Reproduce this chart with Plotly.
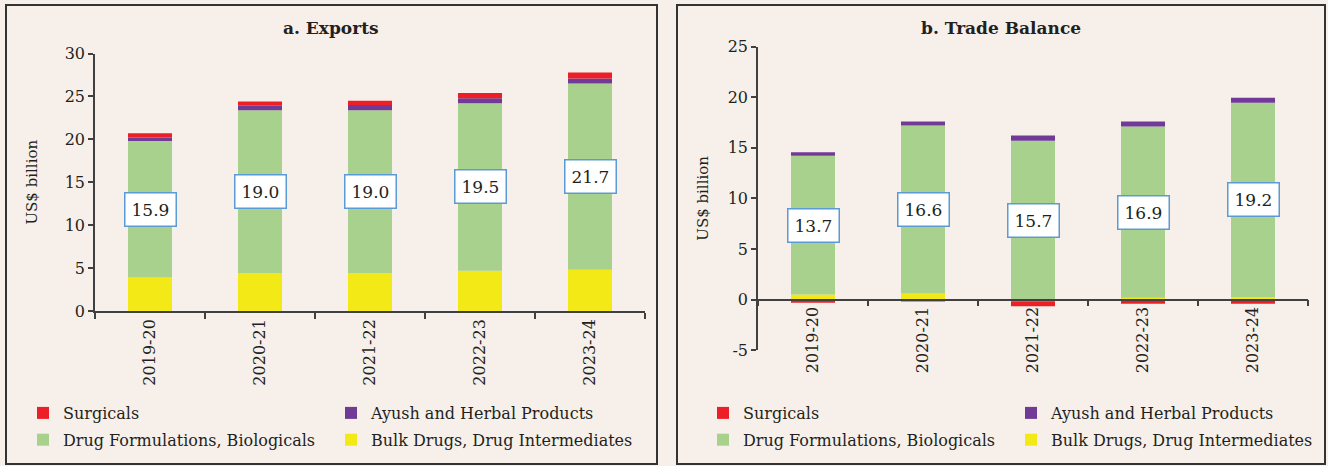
import plotly.graph_objects as go

# ---------------- data ----------------
years = ["2019-20", "2020-21", "2021-22", "2022-23", "2023-24"]

exp_bulk = [3.9, 4.4, 4.4, 4.7, 4.8]
exp_form = [15.9, 19.0, 19.0, 19.5, 21.7]
exp_ayush = [0.4, 0.5, 0.6, 0.6, 0.6]
exp_surg = [0.5, 0.5, 0.5, 0.6, 0.7]

tb_bulk = [0.5, 0.6, -0.15, 0.2, 0.25]
tb_form = [13.7, 16.6, 15.7, 16.9, 19.2]
tb_ayush = [0.35, 0.4, 0.5, 0.5, 0.5]
tb_surg = [-0.3, -0.1, -0.5, -0.4, -0.4]

exp_ticks = [0, 5, 10, 15, 20, 25, 30]
tb_ticks = [-5, 0, 5, 10, 15, 20, 25]

names = ["Bulk Drugs, Drug Intermediates", "Drug Formulations, Biologicals",
         "Ayush and Herbal Products", "Surgicals"]
colors = ["#F2E917", "#A9D18E", "#703A96", "#ED1F26"]

# ---------------- style ----------------
W, H = 1328, 466
BG = "#F7F0EA"
FONT = "DejaVu Serif"
TXT = "#231F20"
AX = "#404040"


def px_x(p):
    return p / W


def px_y(p):
    return (H - p) / H


fig = go.Figure()

# legend columns: column A (Surgicals / Drug Formulations), column B (Ayush / Bulk Drugs)
col_of = ["B", "A", "B", "A"]
rank_of = [2, 2, 1, 1]
left = [exp_bulk, exp_form, exp_ayush, exp_surg]
right = [tb_bulk, tb_form, tb_ayush, tb_surg]
leg_left = {"A": "legend", "B": "legend2"}
leg_right = {"A": "legend3", "B": "legend4"}
for i, (vals, nm, col, c) in enumerate(zip(left, names, colors, col_of)):
    fig.add_trace(go.Bar(x=years, y=vals, name=nm, marker=dict(color=col, line=dict(width=0)),
                         width=0.4, xaxis="x", yaxis="y", legend=leg_left[c],
                         legendgroup=f"L{i}", legendrank=rank_of[i]))
for i, (vals, nm, col, c) in enumerate(zip(right, names, colors, col_of)):
    fig.add_trace(go.Bar(x=years, y=vals, name=nm, marker=dict(color=col, line=dict(width=0)),
                         width=0.4, xaxis="x2", yaxis="y2", legend=leg_right[c],
                         legendgroup=f"R{i}", legendrank=rank_of[i]))

# data labels on the formulations segment
box = dict(bgcolor="white", bordercolor="#5B9BD5", borderwidth=1.5, borderpad=6,
           font=dict(family=FONT, size=17, color=TXT), showarrow=False)
annotations = []
for yr, b, f in zip(years, exp_bulk, exp_form):
    base = b if b > 0 else 0
    annotations.append(dict(x=yr, y=base + f / 2, xref="x", yref="y", text=f"{f:.1f}", **box))
for yr, b, f in zip(years, tb_bulk, tb_form):
    base = b if b > 0 else 0
    annotations.append(dict(x=yr, y=base + f / 2, xref="x2", yref="y2", text=f"{f:.1f}", **box))

# titles
for xc, t in [(331, "a. Exports"), (1001, "b. Trade Balance")]:
    annotations.append(dict(x=px_x(xc), y=px_y(28), xref="paper", yref="paper", text=f"<b>{t}</b>",
                            xanchor="center", yanchor="middle", showarrow=False,
                            font=dict(family=FONT, size=17, color=TXT)))

# panel borders
shapes = [
    dict(type="rect", xref="paper", yref="paper", x0=px_x(6), x1=px_x(657), y0=px_y(464), y1=px_y(5),
         line=dict(color="#333333", width=2)),
    dict(type="rect", xref="paper", yref="paper", x0=px_x(677), x1=px_x(1325), y0=px_y(464), y1=px_y(5),
         line=dict(color="#333333", width=2)),
]

tickfont = dict(family=FONT, size=16, color=TXT)
titlefont = dict(family=FONT, size=15, color=TXT)

ydom2 = [px_y(350.3), px_y(46.5)]
yr2 = [-5, 25]
x2pos = ydom2[0] + (ydom2[1] - ydom2[0]) * (0 - yr2[0]) / (yr2[1] - yr2[0])

common_x = dict(type="category", tickson="boundaries", ticks="outside", ticklen=6, tickwidth=1.5,
                tickcolor=AX, showline=True, linecolor=AX, linewidth=1.5, showgrid=False,
                tickangle=-90, tickfont=tickfont, zeroline=False)
common_y = dict(ticks="outside", ticklen=5, tickwidth=1.5, tickcolor=AX, showline=True, linecolor=AX,
                linewidth=1.5, showgrid=False, zeroline=False, tickfont=tickfont)

legfont = dict(family=FONT, size=16, color=TXT)


def leg(xp):
    return dict(orientation="v", x=px_x(xp), y=px_y(396), xanchor="left", yanchor="top",
                traceorder="grouped", tracegroupgap=3,
                font=legfont, bgcolor="rgba(0,0,0,0)", borderwidth=0)


fig.update_layout(
    width=W, height=H,
    paper_bgcolor=BG, plot_bgcolor=BG,
    margin=dict(l=0, r=0, t=0, b=0, autoexpand=False),
    barmode="relative",
    showlegend=True,
    xaxis=dict(domain=[px_x(95), px_x(645)], anchor="y", **common_x),
    yaxis=dict(domain=[px_y(311), px_y(53.5)], range=[0, 30], anchor="x",
               tickvals=exp_ticks, ticktext=[str(v) for v in exp_ticks],
               title=dict(text="US$ billion", font=titlefont, standoff=23), **common_y),
    xaxis2=dict(domain=[px_x(758), px_x(1308)], anchor="free", position=x2pos, **common_x),
    yaxis2=dict(domain=ydom2, range=yr2, anchor="x2",
                tickvals=tb_ticks, ticktext=[str(v) for v in tb_ticks],
                title=dict(text="US$ billion", font=titlefont, standoff=15), **common_y),
    legend=leg(23),
    legend2=leg(331),
    legend3=leg(703),
    legend4=leg(1011),
    annotations=annotations,
    shapes=shapes,
)

fig.write_html("out.html", config={"displayModeBar": False},
               post_script="document.body.style.margin='0';document.body.style.background='#F7F0EA';")
